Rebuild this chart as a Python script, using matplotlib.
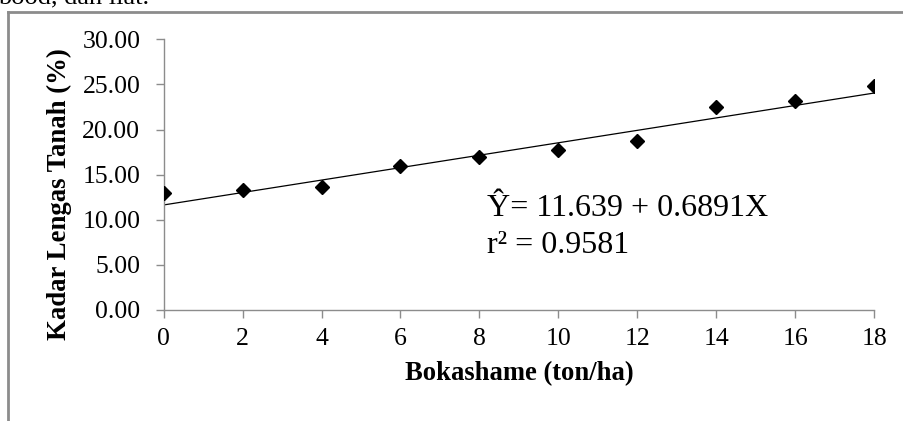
import numpy as np
import matplotlib.pyplot as plt
from matplotlib.lines import Line2D

# bokashame dose (ton/ha) vs soil moisture (%)
dose = [0, 2, 4, 6, 8, 10, 12, 14, 16, 18]
moisture = [13.0, 13.3, 13.6, 16.0, 16.9, 17.7, 18.7, 22.5, 23.2, 24.8]
intercept = 11.639
slope = 0.6891
r2 = 0.9581

plt.rcParams['font.family'] = ['Liberation Serif', 'DejaVu Serif']
axis_grey = '#8c8c8c'

fig = plt.figure(figsize=(9.04, 4.21), dpi=100)
ax = fig.add_axes([0.181, 0.2637, 0.786, 0.643])

x_line = np.array([min(dose), max(dose)])
ax.plot(x_line, intercept + slope * x_line, color='black', lw=0.9, zorder=2)
ax.plot(dose, moisture, 'D', color='black', ms=7.6, zorder=3)

ax.set_xlim(0, 18)
ax.set_ylim(0, 30)
ax.set_xticks(dose)
ax.set_yticks(np.arange(0, 31, 5))
ax.set_yticklabels([f'{v:.2f}' for v in np.arange(0, 31, 5)])

for s in ['top', 'right']:
    ax.spines[s].set_visible(False)
for s in ['left', 'bottom']:
    ax.spines[s].set_color(axis_grey)
    ax.spines[s].set_linewidth(1.0)
ax.tick_params(axis='both', direction='out', length=5.8, width=1.0,
               color=axis_grey, labelsize=18.5)
ax.tick_params(axis='y', pad=11)
ax.tick_params(axis='x', pad=7)

ax.set_xlabel('Bokashame (ton/ha)', fontsize=19.2, fontweight='bold', labelpad=8)
ax.set_ylabel('Kadar Lengas Tanah (%)', fontsize=19.3, fontweight='bold',
              va='center', ha='center')
ax.yaxis.set_label_coords(-0.146, 0.428)

ax.text(8.2, 11.2, 'Ŷ= %.3f + %.4fX' % (intercept, slope), fontsize=23, ha='left', va='center')
ax.text(8.2, 7.2, 'r² = %.4f' % r2, fontsize=23, ha='left', va='center')

# frame around the chart and the clipped caption above it
W, H = 904, 421
fig.add_artist(Line2D([8 / W, 1], [1 - 12 / H, 1 - 12 / H], color=axis_grey, lw=2))
fig.add_artist(Line2D([8 / W, 8 / W], [0, 1 - 12 / H], color=axis_grey, lw=2))
fig.text(-2 / W, 1 - 3 / H, 'bood, dan liat.', fontsize=19, va='baseline', ha='left')

fig.savefig('out.png', dpi=100)
